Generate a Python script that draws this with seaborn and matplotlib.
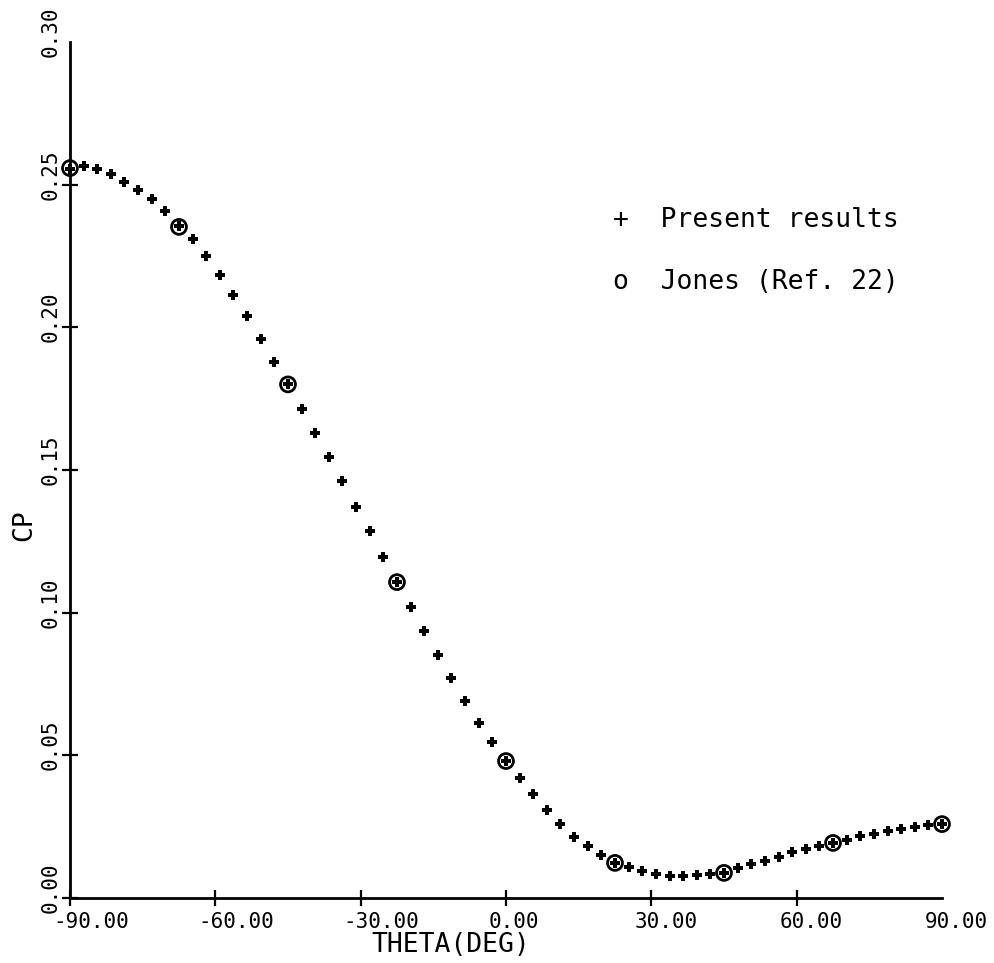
import numpy as np
import pandas as pd
import matplotlib
matplotlib.use('Agg')
import matplotlib.pyplot as plt
import matplotlib.transforms as mtransforms
import seaborn as sns

# values
theta_present = [-90.00, -87.19, -84.38, -81.56, -78.75, -75.94, -73.13, -70.31,
                 -67.50, -64.69, -61.88, -59.06, -56.25, -53.44, -50.63, -47.81,
                 -45.00, -42.19, -39.38, -36.56, -33.75, -30.94, -28.13, -25.31,
                 -22.50, -19.69, -16.88, -14.06, -11.25, -8.44, -5.63, -2.81,
                 0.00, 2.81, 5.63, 8.44, 11.25, 14.06, 16.88, 19.69,
                 22.50, 25.31, 28.13, 30.94, 33.75, 36.56, 39.38, 42.19,
                 45.00, 47.81, 50.63, 53.44, 56.25, 59.06, 61.88, 64.69,
                 67.50, 70.31, 73.13, 75.94, 78.75, 81.56, 84.38, 87.19, 90.00]
cp_present = [0.2555, 0.2565, 0.2555, 0.2537, 0.2510, 0.2481, 0.2451, 0.2408,
              0.2355, 0.2310, 0.2250, 0.2185, 0.2115, 0.2040, 0.1960, 0.1880,
              0.1800, 0.1715, 0.1630, 0.1545, 0.1460, 0.1370, 0.1285, 0.1195,
              0.1107, 0.1020, 0.0935, 0.0850, 0.0770, 0.0690, 0.0615, 0.0545,
              0.0480, 0.0420, 0.0365, 0.0310, 0.0260, 0.0215, 0.0182, 0.0151,
              0.0123, 0.0109, 0.0095, 0.0084, 0.0077, 0.0077, 0.0080, 0.0084,
              0.0088, 0.0105, 0.0119, 0.0130, 0.0144, 0.0160, 0.0172, 0.0183,
              0.0193, 0.0205, 0.0216, 0.0226, 0.0235, 0.0243, 0.0250, 0.0255, 0.0259]

theta_jones = [-90.0, -67.5, -45.0, -22.5, 0.0, 22.5, 45.0, 67.5, 90.0]
cp_jones = [0.2558, 0.2352, 0.1800, 0.1107, 0.0480, 0.0123, 0.0088, 0.0193, 0.0259]

xticks = [-90, -60, -30, 0, 30, 60, 90]
xtick_labels = ['-90.00', '-60.00', '-30.00', '0.00', '30.00', '60.00', '90.00']
yticks = [0.0, 0.05, 0.10, 0.15, 0.20, 0.25, 0.30]
ytick_labels = ['0.00', '0.05', '0.10', '0.15', '0.20', '0.25', '0.30']

sns.set_style('ticks')
plt.rcParams['font.family'] = ['DejaVu Sans Mono', 'DejaVu Sans']
plt.rcParams['text.color'] = 'black'
plt.rcParams['axes.labelcolor'] = 'black'

df_p = pd.DataFrame({'theta': theta_present, 'cp': cp_present})
df_j = pd.DataFrame({'theta': theta_jones, 'cp': cp_jones})

fig = plt.figure(figsize=(9.94, 9.63), dpi=100)
ax = fig.add_axes([0.0704, 0.0675, 0.8773, 0.8889])

sns.scatterplot(data=df_j, x='theta', y='cp', marker='o', s=115,
                facecolor='none', edgecolor='black', linewidth=2.0,
                clip_on=False, zorder=3, ax=ax)
sns.scatterplot(data=df_p, x='theta', y='cp', marker='P', s=60,
                color='black', linewidth=0, clip_on=False, zorder=4, ax=ax)

ax.set_xlim(-90, 90)
ax.set_ylim(0, 0.30)
ax.set_xticks(xticks)
ax.set_xticklabels(xtick_labels)
ax.set_yticks(yticks)
ax.set_yticklabels(ytick_labels, rotation=90, va='bottom', ha='right')

sns.despine(ax=ax)
for side in ['left', 'bottom']:
    ax.spines[side].set_linewidth(2.0)
    ax.spines[side].set_color('black')

ax.tick_params(axis='both', direction='inout', length=12, width=1.6,
               color='black', labelsize=15, labelcolor='black')
ax.tick_params(axis='x', pad=4)
ax.tick_params(axis='y', pad=1)

# plotter style: labels start a little before the tick
dx = mtransforms.ScaledTranslation(-17 / 100, 0, fig.dpi_scale_trans)
for lab in ax.get_xticklabels():
    lab.set_ha('left')
    lab.set_transform(lab.get_transform() + dx)
dy = mtransforms.ScaledTranslation(0, -15 / 100, fig.dpi_scale_trans)
for lab in ax.get_yticklabels():
    lab.set_transform(lab.get_transform() + dy)

ax.xaxis.get_major_ticks()[-1].tick1line.set_visible(False)
ax.yaxis.get_major_ticks()[-1].tick1line.set_visible(False)

ax.set_xlabel('THETA(DEG)', fontsize=19)
ax.xaxis.set_label_coords(0.437, -0.055)
ax.xaxis.label.set_va('center')
ax.set_ylabel('CP', fontsize=19)
ax.yaxis.set_label_coords(-0.053, 0.436)
ax.yaxis.label.set_va('center')

ax.text(22.1, 0.2376, '+  Present results', fontsize=19, ha='left', va='center')
ax.text(22.1, 0.2159, 'o  Jones (Ref. 22)', fontsize=19, ha='left', va='center')

fig.savefig('out.png', dpi=100)
